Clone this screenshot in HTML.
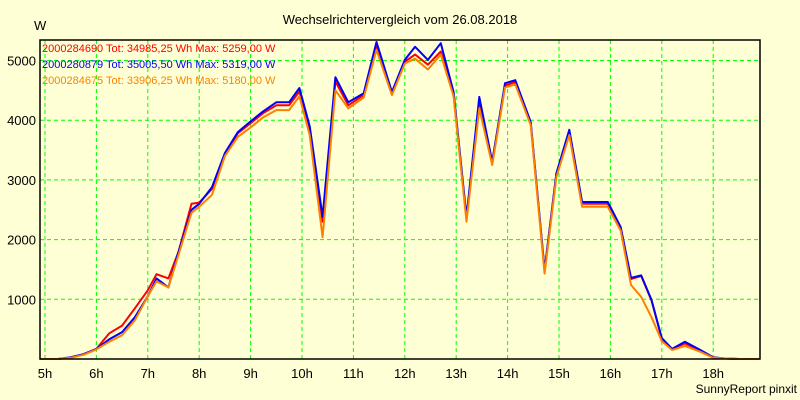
<!DOCTYPE html>
<html><head><meta charset="utf-8"><style>
html,body{margin:0;padding:0;background:#ffffd5;}
svg{display:block;font-family:"Liberation Sans",sans-serif;}
</style></head><body>
<svg id="chart" width="800" height="400">
<rect x="0" y="0" width="800" height="400" fill="#ffffd5"/>
<text x="400" y="24" font-size="13" text-anchor="middle" fill="#000">Wechselrichtervergleich vom 26.08.2018</text>
<text x="34" y="30" font-size="13" fill="#000">W</text>
<g id="grid"></g>
<g id="series"></g>
<rect x="40" y="40" width="720" height="319" fill="none" stroke="#000" stroke-width="1.5"/>
<g id="ticks"></g>
<g font-size="11">
<text x="42" y="52" fill="#ff0000">2000284690 Tot: 34985,25 Wh Max: 5259,00 W</text>
<text x="42" y="68" fill="#0000ff">2000280879 Tot: 35005,50 Wh Max: 5319,00 W</text>
<text x="42" y="84" fill="#ff8000">2000284675 Tot: 33906,25 Wh Max: 5180,00 W</text>
</g>
<text x="797" y="393" font-size="12" text-anchor="end" fill="#000">SunnyReport pinxit</text>
</svg>
<script>
const hourTicks = ["5h","6h","7h","8h","9h","10h","11h","12h","13h","14h","15h","16h","17h","18h"];
const wattTicks = [1000,2000,3000,4000,5000];
const times = [4.9,5.25,5.5,5.75,6.0,6.25,6.5,6.75,7.0,7.17,7.4,7.6,7.85,8.0,8.25,8.5,8.75,9.0,9.25,9.5,9.75,9.95,10.15,10.4,10.65,10.9,11.2,11.45,11.75,12.0,12.2,12.45,12.7,12.95,13.2,13.45,13.7,13.95,14.15,14.45,14.72,14.95,15.2,15.45,15.95,16.2,16.4,16.6,16.8,17.0,17.2,17.45,17.75,18.0,18.2,18.5,18.9];
const blueVals = [0,0,30,80,170,330,450,700,1050,1350,1200,1800,2500,2600,2880,3450,3800,3980,4150,4300,4300,4540,3900,2380,4720,4300,4450,5310,4470,5010,5230,5010,5290,4470,2380,4390,3300,4620,4670,3970,1490,3110,3840,2630,2630,2210,1360,1400,990,350,170,290,150,30,10,0,0];
const redVals = [0,0,20,80,170,430,560,850,1150,1420,1350,1800,2600,2620,2850,3420,3780,3950,4120,4250,4250,4480,3850,2300,4650,4250,4420,5250,4450,4980,5100,4930,5150,4420,2350,4290,3300,4580,4640,3950,1480,3100,3780,2600,2600,2190,1340,1390,980,340,170,260,140,25,10,0,0];
const orangeVals = [0,0,20,70,160,290,400,650,1050,1300,1200,1750,2450,2550,2750,3400,3720,3880,4050,4170,4170,4400,3750,2040,4500,4200,4380,5180,4420,4950,5030,4850,5100,4400,2300,4200,3250,4550,4600,3920,1430,3050,3750,2550,2550,2150,1240,1040,700,300,150,220,120,20,10,0,0];
const NS="http://www.w3.org/2000/svg";
function xs(t){return 45+(t-5)*51.4;}
function ys(w){return 359-w*0.0597;}
const grid=document.getElementById('grid'), ticks=document.getElementById('ticks'), ser=document.getElementById('series');
hourTicks.forEach((lab,i)=>{
  const x=xs(5+i);
  const l=document.createElementNS(NS,'line');
  l.setAttribute('x1',x);l.setAttribute('x2',x);l.setAttribute('y1',40);l.setAttribute('y2',359);
  l.setAttribute('stroke','#00ff00');l.setAttribute('stroke-dasharray','4 3');
  
  
  grid.appendChild(l);
  const t=document.createElementNS(NS,'text');
  t.setAttribute('x',x);t.setAttribute('y',378);t.setAttribute('font-size','13');t.setAttribute('text-anchor','middle');
  t.textContent=lab;
  
  
  ticks.appendChild(t);
});
wattTicks.forEach(w=>{
  const y=ys(w);
  const l=document.createElementNS(NS,'line');
  l.setAttribute('x1',40);l.setAttribute('x2',760);l.setAttribute('y1',y);l.setAttribute('y2',y);
  l.setAttribute('stroke','#00ff00');l.setAttribute('stroke-dasharray','4 3');
  
  
  grid.appendChild(l);
  const t=document.createElementNS(NS,'text');
  t.setAttribute('x',36);t.setAttribute('y',y+5);t.setAttribute('font-size','13');t.setAttribute('text-anchor','end');
  t.textContent=w;
  
  
  ticks.appendChild(t);
});
function line(vals,color,name){
  const p=document.createElementNS(NS,'polyline');
  p.setAttribute('points',vals.map((v,i)=>xs(times[i]).toFixed(1)+','+ys(v).toFixed(1)).join(' '));
  p.setAttribute('fill','none');p.setAttribute('stroke',color);p.setAttribute('stroke-width','2');p.setAttribute('stroke-linejoin','round');
  
  
  ser.appendChild(p);
}
line(redVals,'#ff0000','series-2000284690');
line(blueVals,'#0000ff','series-2000280879');
line(orangeVals,'#ff8000','series-2000284675');
</script>
</body></html>
